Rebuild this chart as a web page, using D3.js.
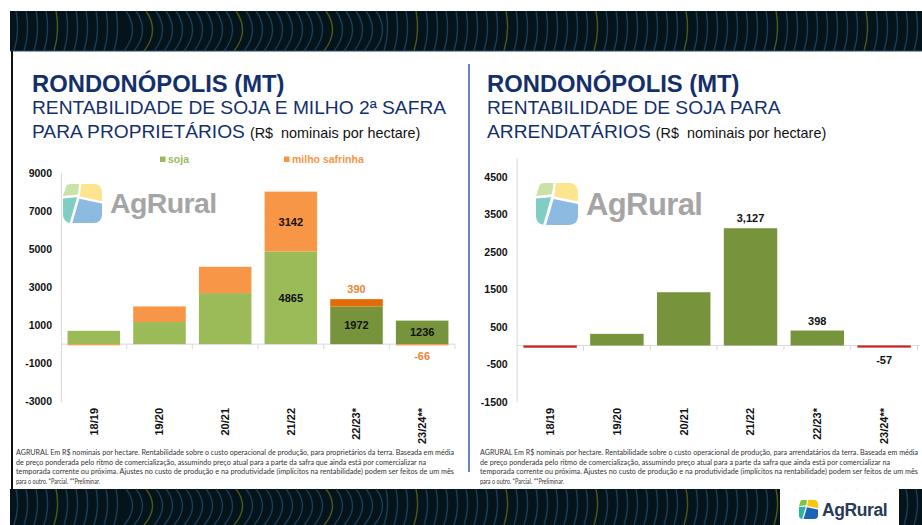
<!DOCTYPE html>
<html>
<head>
<meta charset="utf-8">
<script src="https://cdn.jsdelivr.net/npm/d3@7"></script>
<style>
  body { margin: 0; background: #fff; }
  svg { display: block; font-family: Arial, "Liberation Sans", sans-serif; }
</style>
</head>
<body>
<script>
// Data
var seasons = ['18/19', '19/20', '20/21', '21/22', '22/23*', '23/24**'];
var sojaProp = [700, 1160, 2680, 4865, 1972, 1236];
var milhoProp = [-60, 820, 1380, 3142, 390, -66];
var sojaPropLabels = ['', '', '', '4865', '1972', '1236'];
var milhoPropLabels = ['', '', '', '3142', '390', '-66'];
var propTicks = [9000, 7000, 5000, 3000, 1000, -1000, -3000];

var sojaArr = [-60, 310, 1420, 3127, 398, -57];
var sojaArrLabels = ['', '', '', '3,127', '398', '-57'];
var arrTicks = [4500, 3500, 2500, 1500, 500, -500, -1500];

var footLeft = [
    'AGRURAL  Em R$ nominais por hectare. Rentabilidade sobre o custo operacional de produção, para proprietários da terra.  Baseada em média',
    'de preço ponderada pelo ritmo de comercialização, assumindo preço atual para a parte da safra que ainda está por comercializar na',
    'temporada corrente ou próxima. Ajustes no custo de produção e na produtividade (implícitos na rentabilidade) podem ser feitos de um mês',
    'para o outro. *Parcial. **Preliminar.'
];
var footRight = [
    'AGRURAL  Em R$ nominais por hectare. Rentabilidade sobre o custo operacional de produção, para arrendatários da terra.  Baseada em média',
    'de preço ponderada pelo ritmo de comercialização, assumindo preço atual para a parte da safra que ainda está por comercializar na',
    'temporada corrente ou próxima. Ajustes no custo de produção e na produtividade (implícitos na rentabilidade) podem ser feitos de um mês',
    'para o outro. *Parcial. **Preliminar.'
];
var footWidths = [438, 410, 438, 84];

var navy = '#14306c';
var lightGreen = '#9bbb59', darkGreen = '#77933c';
var lightOrange = '#f79646', darkOrange = '#e36c09';
var red = '#c9211e';

var svg = d3.select('body').append('svg')
    .attr('width', 922)
    .attr('height', 525);

// Dark decorative bands (top and bottom)
function band(y, h) {
    var g = svg.append('g');
    g.append('rect').attr('x', 10).attr('y', y).attr('width', 912).attr('height', h).attr('fill', '#05131a');
    d3.range(0, 92).forEach(function(i) {
        var x = 16 + i * 10;
        var bend = (x > 120 && x < 380) ? 14 : 4;
        g.append('path')
            .attr('d', `M${x},${y} Q${x + bend},${y + h / 2} ${x - 2},${y + h}`)
            .attr('fill', 'none')
            .attr('stroke', i % 9 === 4 ? '#56661f' : '#1d4664')
            .attr('stroke-width', 1.4)
            .attr('opacity', 0.85);
    });
    g.append('line').attr('x1', 10).attr('x2', 922).attr('y1', y + h).attr('y2', y + h)
        .attr('stroke', '#2a4a6a').attr('stroke-width', y < 100 ? 1 : 0);
}
band(11, 40);
band(489, 36);

// Left frame and divider
svg.append('line').attr('x1', 12).attr('x2', 12).attr('y1', 51).attr('y2', 489)
    .attr('stroke', '#111').attr('stroke-width', 2);
svg.append('line').attr('x1', 469).attr('x2', 469).attr('y1', 64).attr('y2', 472)
    .attr('stroke', '#3d5ca8').attr('stroke-width', 1.5);

// Icon of the AgRural logo
function drawIcon(g, x, y, s, colors) {
    var id = 'clip' + Math.round(x) + Math.round(y);
    g.append('clipPath').attr('id', id)
        .append('rect').attr('x', x).attr('y', y).attr('width', s).attr('height', s)
        .attr('rx', s * 0.2);
    var ig = g.append('g').attr('clip-path', `url(#${id})`);
    var shapes = [
        [[0.1, 0.0], [0.42, 0.0], [0.38, 0.27], [0.0, 0.31]],
        [[0.47, 0.0], [1, 0.0], [1, 0.44], [0.43, 0.32]],
        [[0.0, 0.37], [0.36, 0.34], [0.17, 1.0], [0.0, 1.0]],
        [[0.42, 0.38], [1, 0.5], [1, 1], [0.24, 1]]
    ];
    shapes.forEach(function(p, i) {
        ig.append('path')
            .attr('d', d3.line()(p.map((q) => [x + q[0] * s, y + q[1] * s])) + 'Z')
            .attr('fill', colors[i]);
    });
}
var softColors = ['#c9e2a8', '#fde58f', '#80cdc6', '#8dbae1'];
var brightColors = ['#7dc242', '#f9c80e', '#2bb3a5', '#1e63b5'];

// Bottom-right logo
svg.append('rect').attr('x', 780).attr('y', 489).attr('width', 119).attr('height', 36).attr('fill', '#fff');
drawIcon(svg, 799, 500, 19, brightColors);
svg.append('text').attr('x', 822).attr('y', 516)
    .attr('font-size', 17.5).attr('font-weight', 'bold').attr('fill', '#283a56')
    .attr('letter-spacing', -0.4)
    .text('AgRural');

// Titles
function titles(x, l2, l3) {
    svg.append('text').attr('x', x).attr('y', 92)
        .attr('font-size', 23.8).attr('font-weight', 'bold').attr('fill', navy)
        .text('RONDONÓPOLIS (MT)');
    svg.append('text').attr('x', x).attr('y', 114)
        .attr('font-size', 19.2).attr('fill', navy)
        .text(l2);
    var t = svg.append('text').attr('x', x).attr('y', 138)
        .attr('font-size', 19.2).attr('fill', navy);
    t.append('tspan').text(l3);
    t.append('tspan').attr('font-size', 14.4).attr('fill', '#111').attr('dx', 5)
        .attr('xml:space', 'preserve').text('(R$  nominais por hectare)');
}
titles(32, 'RENTABILIDADE DE SOJA E MILHO 2ª SAFRA', 'PARA PROPRIETÁRIOS');
titles(487, 'RENTABILIDADE DE SOJA PARA', 'ARRENDATÁRIOS');

// Footer notes
function footer(x, lines) {
    svg.append('g').selectAll('text')
        .data(lines)
        .enter()
        .append('text')
        .attr('x', x)
        .attr('y', (d, i) => 455 + i * 9.6)
        .attr('font-family', 'Lato, "Open Sans", sans-serif')
        .attr('font-size', 7.1)
        .attr('fill', '#333')
        .attr('textLength', (d, i) => footWidths[i])
        .attr('lengthAdjust', 'spacingAndGlyphs')
        .text((d) => d);
}
footer(16, footLeft);
footer(480, footRight);

// Shared axis drawing
function axes(g, x, y, ticks, left, right) {
    var yAxis = d3.axisLeft(y).tickValues(ticks).tickSize(0).tickPadding(9)
        .tickFormat((d) => String(d));
    g.append('g')
        .attr('transform', `translate(${left}, 0)`)
        .call(yAxis)
        .call((a) => a.select('.domain').attr('stroke', '#d9d9d9'))
        .selectAll('text')
        .attr('font-size', 10.5).attr('font-weight', 'bold').attr('fill', '#111');

    // zero line with category boundary ticks
    var zero = y(0);
    g.append('line').attr('x1', left).attr('x2', right).attr('y1', zero).attr('y2', zero)
        .attr('stroke', '#d9d9d9').attr('stroke-width', 1);
    var step = x.step();
    g.selectAll('.bound')
        .data(x.domain())
        .enter()
        .append('line')
        .attr('x1', (d) => x(d) - step * x.paddingInner() / 2 + step)
        .attr('x2', (d) => x(d) - step * x.paddingInner() / 2 + step)
        .attr('y1', zero).attr('y2', zero + 5)
        .attr('stroke', '#d9d9d9');

    var xAxis = d3.axisBottom(x).tickSize(0);
    g.append('g')
        .attr('transform', 'translate(0, 408)')
        .call(xAxis)
        .call((a) => a.select('.domain').remove())
        .selectAll('text')
        .attr('transform', 'rotate(-90)')
        .attr('x', 0).attr('y', 0).attr('dy', '0.35em')
        .style('text-anchor', 'end')
        .attr('font-size', 11).attr('font-weight', 'bold').attr('fill', '#111');
}

// Watermark
function watermark(g, x, y, s, fs) {
    drawIcon(g, x, y, s, softColors);
    g.append('text').attr('x', x + s + 8).attr('y', y + s * 0.75)
        .attr('font-size', fs).attr('font-weight', 'bold').attr('fill', '#a5a5a5')
        .attr('letter-spacing', -0.6)
        .text('AgRural');
}

// ---- Left chart: proprietários ----
var gl = svg.append('g');
var xL = d3.scaleBand().domain(seasons).range([61, 455]).paddingInner(0.2).paddingOuter(0.1);
var yL = d3.scaleLinear().domain([-3000, 9000]).range([401.3, 172.7]);

watermark(gl, 63, 184, 39, 28.5);
axes(gl, xL, yL, propTicks, 61, 455);

var table = seasons.map((s, i) => ({ season: s, soja: sojaProp[i], milho: milhoProp[i], i: i }));
var stacked = d3.stack().keys(['soja', 'milho']).offset(d3.stackOffsetDiverging)(table);

var sojaFill = (i) => (i >= 4 ? darkGreen : lightGreen);
var milhoFill = (i) => (i === 4 ? darkOrange : lightOrange);

stacked.forEach(function(layer) {
    gl.append('g').selectAll('rect')
        .data(layer)
        .enter()
        .append('rect')
        .attr('x', (d) => xL(d.data.season))
        .attr('width', xL.bandwidth())
        .attr('y', (d) => yL(Math.max(d[0], d[1])))
        .attr('height', (d) => Math.abs(yL(d[0]) - yL(d[1])))
        .attr('fill', (d) => layer.key === 'soja' ? sojaFill(d.data.i) : milhoFill(d.data.i));
});

// Labels, left chart
gl.append('g').selectAll('text')
    .data(stacked[0].filter((d) => sojaPropLabels[d.data.i] !== ''))
    .enter()
    .append('text')
    .attr('x', (d) => xL(d.data.season) + xL.bandwidth() / 2)
    .attr('y', (d) => (yL(d[0]) + yL(d[1])) / 2)
    .attr('dy', '0.36em')
    .attr('text-anchor', 'middle')
    .attr('font-size', 11).attr('font-weight', 'bold').attr('fill', '#111')
    .text((d) => sojaPropLabels[d.data.i]);

gl.append('g').selectAll('text')
    .data(stacked[1].filter((d) => milhoPropLabels[d.data.i] !== ''))
    .enter()
    .append('text')
    .attr('x', (d) => xL(d.data.season) + xL.bandwidth() / 2)
    .attr('y', function(d) {
        var v = milhoProp[d.data.i];
        if (d.data.i === 3) return (yL(d[0]) + yL(d[1])) / 2;
        return v < 0 ? yL(d[0]) + 11 : yL(d[1]) - 6;
    })
    .attr('dy', (d) => d.data.i === 3 ? '0.36em' : (milhoProp[d.data.i] < 0 ? '0.36em' : '0'))
    .attr('text-anchor', 'middle')
    .attr('font-size', 11).attr('font-weight', 'bold')
    .attr('fill', (d) => d.data.i === 3 ? '#111' : '#ec8433')
    .text((d) => milhoPropLabels[d.data.i]);

// Legend
var legend = [['soja', lightGreen, 160], ['milho safrinha', lightOrange, 284]];
legend.forEach(function(l) {
    gl.append('rect').attr('x', l[2]).attr('y', 156.5).attr('width', 5.5).attr('height', 5.5).attr('fill', l[1]);
    gl.append('text').attr('x', l[2] + 8).attr('y', 163)
        .attr('font-size', 10.5).attr('font-weight', 'bold').attr('fill', l[1])
        .text(l[0]);
});

// ---- Right chart: arrendatários ----
var gr = svg.append('g');
var xR = d3.scaleBand().domain(seasons).range([516.7, 917.5]).paddingInner(0.2).paddingOuter(0.1);
var yR = d3.scaleLinear().domain([-1500, 5000]).range([401.7, 158]);

watermark(gr, 536, 183, 42, 31);
axes(gr, xR, yR, arrTicks, 516.7, 920);

gr.append('g').selectAll('rect')
    .data(sojaArr)
    .enter()
    .append('rect')
    .attr('x', (d, i) => xR(seasons[i]))
    .attr('width', xR.bandwidth())
    .attr('y', (d) => yR(Math.max(0, d)))
    .attr('height', (d) => Math.abs(yR(d) - yR(0)))
    .attr('fill', (d) => d < 0 ? red : darkGreen);

gr.append('g').selectAll('text')
    .data(sojaArr)
    .enter()
    .append('text')
    .attr('x', (d, i) => xR(seasons[i]) + xR.bandwidth() / 2)
    .attr('y', (d) => d < 0 ? yR(d) + 12 : yR(d) - 6)
    .attr('dy', (d) => d < 0 ? '0.36em' : '0')
    .attr('text-anchor', 'middle')
    .attr('font-size', 11).attr('font-weight', 'bold').attr('fill', '#111')
    .text((d, i) => sojaArrLabels[i]);
</script>
</body>
</html>
